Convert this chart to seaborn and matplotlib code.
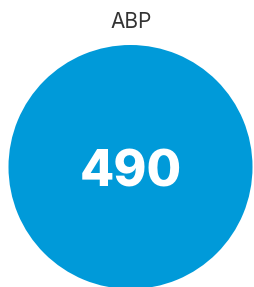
import matplotlib
matplotlib.use("Agg")
import matplotlib.pyplot as plt
import seaborn as sns

# Data
categories = ["ABP"]
values = [490]

BLUE = "#009ad9"

sns.set_theme(style="white")
plt.rcParams["font.family"] = ["Inter", "DejaVu Sans"]

fig = plt.figure(figsize=(2.54, 2.87), dpi=100)
ax = fig.add_axes([0, 0, 1, 1])

# single-value bubble drawn as a one-slice pie
ax.pie(values, colors=[BLUE], radius=122, center=(130.5, 167),
       startangle=90, wedgeprops={"linewidth": 0})
ax.set_xlim(0, 254)
ax.set_ylim(287, 0)
ax.set_aspect("equal")
ax.axis("off")

ax.text(131, 173, f"{values[0]}", color="white", fontsize=36,
        fontweight="heavy", ha="center", va="center")
ax.text(131, 22, categories[0], color="#333333", fontsize=15,
        fontweight="normal", ha="center", va="center")

fig.savefig("out.png", dpi=100)
